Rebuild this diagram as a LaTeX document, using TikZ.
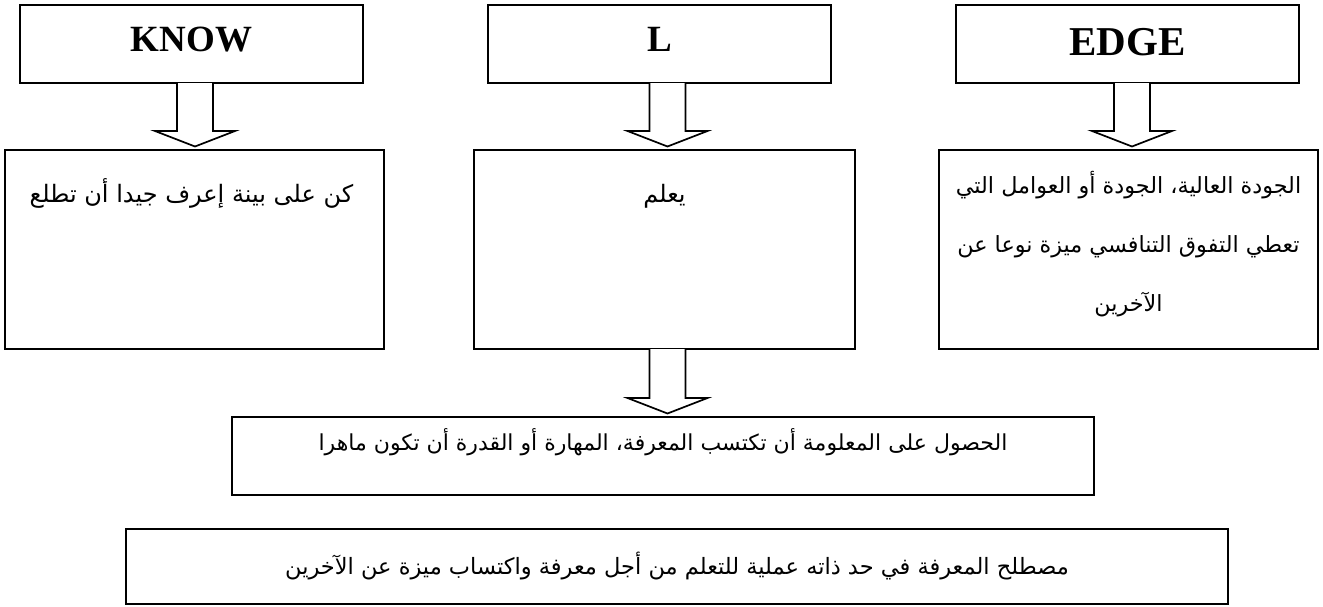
\documentclass[tikz,border=0pt]{standalone}
\usepackage{fontspec}
\setmainfont{Liberation Serif}
\newfontfamily\arabicfont[Script=Arabic]{DejaVu Sans}
\TeXXeTstate=1
\usetikzlibrary{calc}

\tikzset{
  box/.style={draw, line width=1.7pt, inner sep=0pt, outer sep=0pt, anchor=north west},
  titlebox/.style={box, line width=2pt, minimum width=343pt, minimum height=78pt,
    font=\bfseries\fontsize{37}{40}\selectfont, text height=26pt, text depth=12pt},
  tallbox/.style={box, minimum height=199pt},
  widebox/.style={box, line width=1.8pt},
  artext/.style={inner sep=0pt, outer sep=0pt, align=center},
  arrowline/.style={draw, line width=1.7pt, fill=white, line join=miter},
}

% hollow block arrow from the bottom of #1 to the top of #2, shifted by #3
\newcommand\blockarrow[3]{%
  \draw[arrowline] let \p1=(#1.south), \p2=(#2.north) in
    (\x2+#3-18pt,\y1) -- (\x2+#3-18pt,\y2+19pt) -- (\x2+#3-40pt,\y2+19pt)
    -- (\x2+#3,\y2+3.5pt) -- (\x2+#3+40pt,\y2+19pt) -- (\x2+#3+18pt,\y2+19pt)
    -- (\x2+#3+18pt,\y1);%
}

\begin{document}
\begin{tikzpicture}[x=1pt,y=-1pt]
\useasboundingbox (0,0) rectangle (1323,606);

% title boxes
\node[titlebox] (know) at (20,5) {KNOW};
\node[titlebox] (ell) at (488,5) {L};
\node[titlebox, font=\bfseries\fontsize{41}{44}\selectfont, text height=27pt, text depth=5pt] (edge) at (956,5) {EDGE};

% meaning boxes
\node[tallbox, minimum width=379pt] (kbox) at (5,150) {};
\node[tallbox, minimum width=381pt] (lbox) at (474,150) {};
\node[tallbox, minimum width=379pt] (ebox) at (939,150) {};

\node[artext, anchor=base, font=\arabicfont\fontsize{24}{30}\selectfont]
  (ktext) at ([xshift=-3pt,yshift=-52pt]kbox.north) {\beginR كن على بينة إعرف جيدا أن تطلع\endR};
\node[artext, anchor=base, font=\arabicfont\fontsize{24}{30}\selectfont]
  (ltext) at ([xshift=0pt,yshift=-52pt]lbox.north) {\beginR يعلم\endR};
\node[artext, anchor=north, font=\arabicfont\fontsize{22.3}{59}\selectfont]
  (etext) at ([yshift=-21pt]ebox.north) {\beginR الجودة العالية، الجودة أو العوامل التي\endR\\
  \beginR تعطي التفوق التنافسي ميزة نوعا عن\endR\\
  \beginR الآخرين\endR};

% summary boxes
\node[widebox, minimum width=862pt, minimum height=78pt] (mid) at (232,417) {};
\node[artext, anchor=base, font=\arabicfont\fontsize{22}{28}\selectfont]
  (midtext) at ([xshift=0pt,yshift=-33pt]mid.north) {\beginR الحصول على المعلومة أن تكتسب المعرفة، المهارة أو القدرة أن تكون ماهرا\endR};

\node[widebox, minimum width=1102pt, minimum height=75pt, line width=2.6pt] (sum) at (126,529) {};
\node[artext, anchor=base, font=\arabicfont\fontsize{22.5}{28}\selectfont]
  (sumtext) at ([xshift=0pt,yshift=-45pt]sum.north) {\beginR مصطلح المعرفة في حد ذاته عملية للتعلم من أجل معرفة واكتساب ميزة عن الآخرين\endR};

% arrows
\blockarrow{know}{kbox}{0.5pt}
\blockarrow{ell}{lbox}{3pt}
\blockarrow{edge}{ebox}{3.5pt}
\blockarrow{lbox}{mid}{4.5pt}
\end{tikzpicture}
\end{document}
